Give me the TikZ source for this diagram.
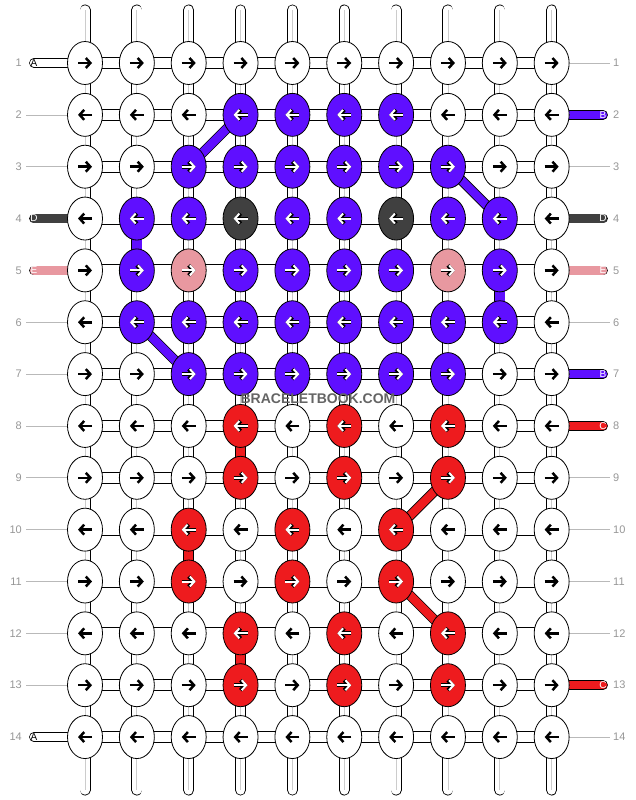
\documentclass[tikz,border=0pt]{standalone}
\usepackage{fontspec}
\setmainfont{Liberation Sans}
\usetikzlibrary{shapes.geometric}
\usetikzlibrary{arrows.meta}
\usetikzlibrary{backgrounds}
\definecolor{ColW}{RGB}{255,255,255}
\definecolor{ColP}{RGB}{95,15,255}
\definecolor{ColK}{RGB}{64,64,64}
\definecolor{ColE}{RGB}{232,152,160}
\definecolor{ColR}{RGB}{238,27,30}
\definecolor{ColNum}{RGB}{150,150,150}
\definecolor{ColMark}{RGB}{100,100,100}
\tikzstyle{Knot}=[ellipse,draw=black,line width=0.8pt,minimum width=35pt,
minimum height=43pt,inner sep=0pt]
\tikzstyle{ArrowDark}=[black,line width=2.5pt,-{Straight Barb[length=4.5pt,width=10pt]}]
\tikzstyle{ArrowRim}=[black,line width=3.8pt,-{Straight Barb[length=4.5pt,width=10pt]}]
\tikzstyle{ArrowLight}=[white,line width=2pt,-{Straight Barb[length=4.5pt,width=10pt]}]
\tikzstyle{BarH}=[double=white,double distance=10.4pt,line width=0.8pt]
\tikzstyle{BarV}=[double=white,double distance=9.4pt,line width=0.8pt]
\tikzstyle{BarMid}=[gray!40,line width=0.8pt]
\tikzstyle{Strand}=[double distance=8.4pt,line width=0.8pt]
\tikzstyle{Tail}=[double distance=8.4pt,line width=0.7pt,line cap=round]
\tikzstyle{Guide}=[gray!55,line width=0.7pt]
\tikzstyle{RowNum}=[text=ColNum,font=\fontsize{11}{12}\selectfont,inner sep=0pt]
\tikzstyle{TailLetter}=[font=\fontsize{10}{11}\selectfont,inner sep=0pt]

\begin{document}
\begin{tikzpicture}[x=1pt,y=-1pt]
  \useasboundingbox (0,0) rectangle (636,800);
  % knots, one row of the pattern per entry
  \foreach \r/\cols in {
    1/{W,W,W,W,W,W,W,W,W,W},
    2/{W,W,W,P,P,P,P,W,W,W},
    3/{W,W,P,P,P,P,P,P,W,W},
    4/{W,P,P,K,P,P,K,P,P,W},
    5/{W,P,E,P,P,P,P,E,P,W},
    6/{W,P,P,P,P,P,P,P,P,W},
    7/{W,W,P,P,P,P,P,P,W,W},
    8/{W,W,W,R,W,R,W,R,W,W},
    9/{W,W,W,R,W,R,W,R,W,W},
    10/{W,W,R,W,R,W,R,W,W,W},
    11/{W,W,R,W,R,W,R,W,W,W},
    12/{W,W,W,R,W,R,W,R,W,W},
    13/{W,W,W,R,W,R,W,R,W,W},
    14/{W,W,W,W,W,W,W,W,W,W}}{
    \pgfmathtruncatemacro\ax{isodd(\r) ? -7 : 7}
    \pgfmathtruncatemacro\bx{-\ax}
    \foreach \k [count=\c] in \cols{
      \node[Knot,fill=Col\k](k-\r-\c)at({85+51.85*(\c-1)},{63+51.85*(\r-1)}){};
      \if\k W
        \draw[ArrowDark,shift={(k-\r-\c.center)}](\ax,0)--(\bx,0);
      \else
        \draw[ArrowRim,shift={(k-\r-\c.center)}](\ax,0)--(\bx,0);
        \draw[ArrowLight,shift={(k-\r-\c.center)}](\ax,0)--(\bx,0);
      \fi
    }
  }
  \begin{pgfonlayer}{background}
    % strings between knots
    \foreach \r in {1,...,14}{
      \foreach \c [evaluate=\c as \n using int(\c+1)] in {1,...,9}
        \draw[BarH](k-\r-\c.center)--(k-\r-\n.center);
    }
    \foreach \r [evaluate=\r as \n using int(\r+1)] in {1,...,13}{
      \foreach \c in {1,...,10}{
        \draw[BarV](k-\r-\c.center)--(k-\n-\c.center);
        \draw[BarMid](k-\r-\c.center)--(k-\n-\c.center);
      }
    }
    % loose ends above and below
    \foreach \c in {1,...,10}{
      \coordinate(t-\c)at({85+51.85*(\c-1)},10);
      \coordinate(u-\c)at({85+51.85*(\c-1)},790);
      \draw[BarV,line cap=round](t-\c)--(k-1-\c.center);
      \draw[BarMid](t-\c)--(k-1-\c.center);
      \draw[BarV,line cap=round](u-\c)--(k-14-\c.center);
      \draw[BarMid](u-\c)--(k-14-\c.center);
    }
    % coloured links
    \foreach \a/\b/\k in {4-2/5-2/P,5-9/6-9/P,8-4/9-4/R,10-3/11-3/R,12-4/13-4/R}
      \draw[BarV,double=Col\k](k-\a.center)--(k-\b.center);
    \foreach \a/\b/\k in {2-4/3-3/P,3-8/4-9/P,6-2/7-3/P,9-8/10-7/R,11-7/12-8/R}
      \draw[Strand,double=Col\k](k-\a.center)--(k-\b.center);
    % side tails
    \foreach \r/\k/\t in {1/W/A,4/K/D,5/E/E,14/W/A}{
      \coordinate(l-\r)at(34,{63+51.85*(\r-1)});
      \draw[Tail,double=Col\k](l-\r)--(k-\r-1.center);
    }
    \foreach \r/\k/\t in {2/P/B,4/K/D,5/E/E,7/P/B,8/R/C,13/R/C}{
      \coordinate(m-\r)at(603,{63+51.85*(\r-1)});
      \draw[Tail,double=Col\k](m-\r)--(k-\r-10.center);
    }
  \end{pgfonlayer}
  % tail letters
  \foreach \r/\k/\t in {1/W/A,4/K/D,5/E/E,14/W/A}{
    \if\k W\def\tc{black}\else\def\tc{white}\fi
    \node[TailLetter,text=\tc](lt-\r)at(l-\r){\t};
  }
  \foreach \r/\k/\t in {2/P/B,4/K/D,5/E/E,7/P/B,8/R/C,13/R/C}{
    \node[TailLetter,text=white](mt-\r)at(m-\r){\t};
  }
  % guide lines for rows without a tail
  \foreach \r in {2,3,6,7,8,9,10,11,12,13}{
    \coordinate(g-\r)at(26,{63+51.85*(\r-1)});
    \draw[Guide](g-\r)--(k-\r-1);
  }
  \foreach \r in {1,3,6,9,10,11,12,14}{
    \coordinate(h-\r)at(610,{63+51.85*(\r-1)});
    \draw[Guide](k-\r-10)--(h-\r);
  }
  % row numbers
  \foreach \r in {1,...,14}{
    \node[RowNum,anchor=east](nl-\r)at(22,{63+51.85*(\r-1)}){\r};
    \node[RowNum,anchor=west](nr-\r)at(613,{63+51.85*(\r-1)}){\r};
  }
  \node[text=ColMark,font=\bfseries\fontsize{14}{14}\selectfont](mark)at(318,399){BRACELETBOOK.COM};
\end{tikzpicture}
\end{document}
